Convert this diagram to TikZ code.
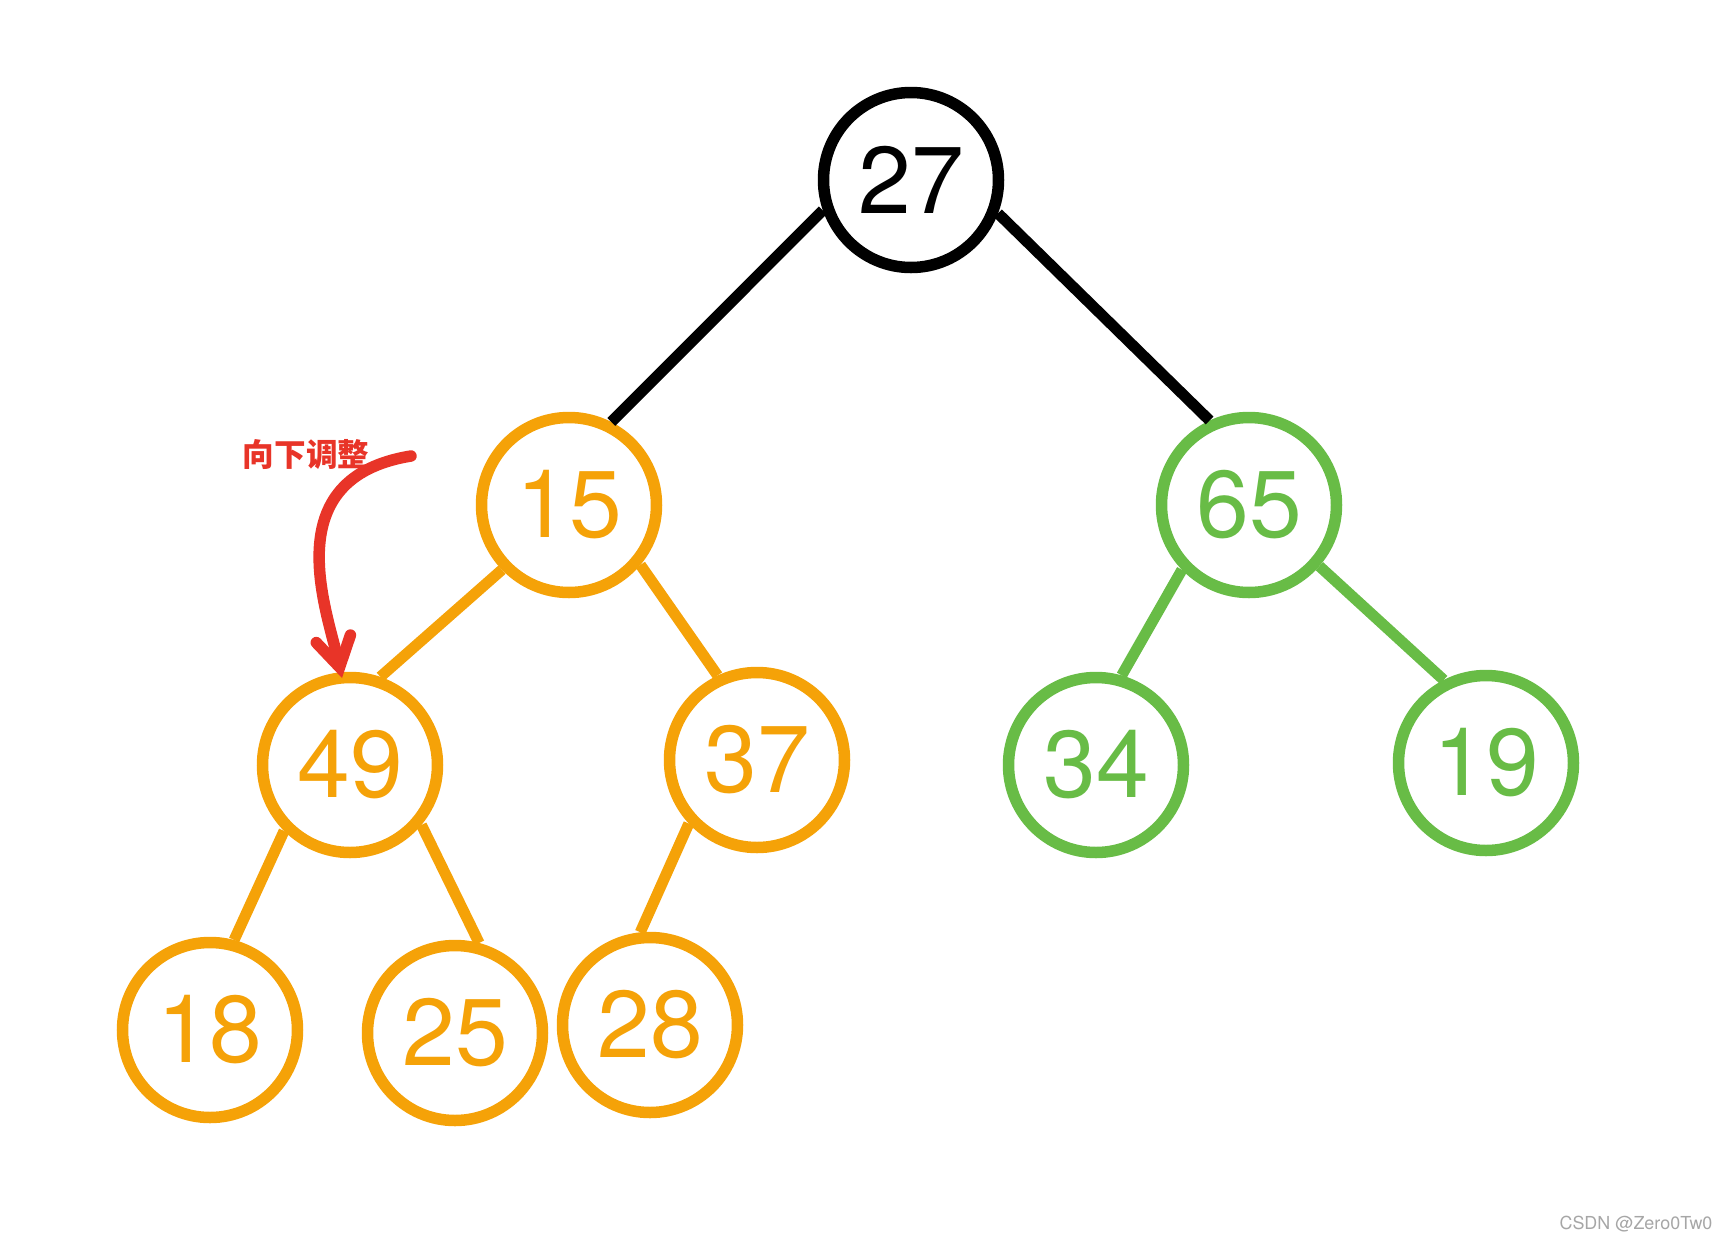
\documentclass[tikz,border=0pt]{standalone}
\usepackage{fontspec}
\setmainfont{TeX Gyre Heros}
\newfontfamily\cjk{Noto Sans CJK SC}
\usetikzlibrary{arrows.meta}
\definecolor{heaporange}{RGB}{245,162,8}
\definecolor{heapgreen}{RGB}{104,188,70}
\definecolor{heapred}{RGB}{232,52,40}
\begin{document}
\begin{tikzpicture}[
        every node/.style={font=\fontsize{27}{32}\selectfont},
        key/.style={circle, draw, line width=1.15mm, minimum size=1.75cm, inner sep=0pt},
        edge/.style={line width=1.1mm},
      ]
      \useasboundingbox (0,0) rectangle (17.31,-12.41);

      \node[key] (n27) at (9.11,-1.80) {27};
      \node[key, heaporange] (n15) at (5.69,-5.05) {15};
      \node[key, heapgreen] (n65) at (12.49,-5.05) {65};
      \node[key, heaporange] (n49) at (3.50,-7.65) {49};
      \node[key, heaporange] (n37) at (7.57,-7.60) {37};
      \node[key, heapgreen] (n34) at (10.96,-7.65) {34};
      \node[key, heapgreen] (n19) at (14.86,-7.63) {19};
      \node[key, heaporange] (n18) at (2.10,-10.30) {18};
      \node[key, heaporange] (n25) at (4.55,-10.33) {25};
      \node[key, heaporange] (n28) at (6.50,-10.25) {28};

      \draw[edge] (n27.199) -- (n15.63);
      \draw[edge] (n27.339) -- (n65.115);
      \draw[edge, heaporange] (n15.224) -- (n49.71);
      \draw[edge, heaporange] (n15.320) -- (n37.115);
      \draw[edge, heaporange] (n49.225) -- (n18.75);
      \draw[edge, heaporange] (n49.320) -- (n25.75);
      \draw[edge, heaporange] (n37.223) -- (n28.96);
      \draw[edge, heapgreen] (n65.224) -- (n34.74);
      \draw[edge, heapgreen] (n65.319) -- (n19.117);

      \node[heapred, font=\cjk\bfseries\fontsize{9}{11}\selectfont] (label) at (3.06,-4.54) {向下调整};
      \coordinate (from) at (4.11,-4.56);
      \coordinate (tip) at (3.42,-6.78);
      \draw[heapred, line width=1.15mm, line cap=round,
            -{Straight Barb[length=2.9mm, width=3.5mm, line cap=round]}]
        (from) .. controls (2.75,-4.78) and (3.27,-6.10) .. (tip);

      \node[gray!70, font=\fontsize{5.1}{6}\selectfont] (mark) at (16.36,-12.24) {CSDN @Zero0Tw0};
\end{tikzpicture}
\end{document}
